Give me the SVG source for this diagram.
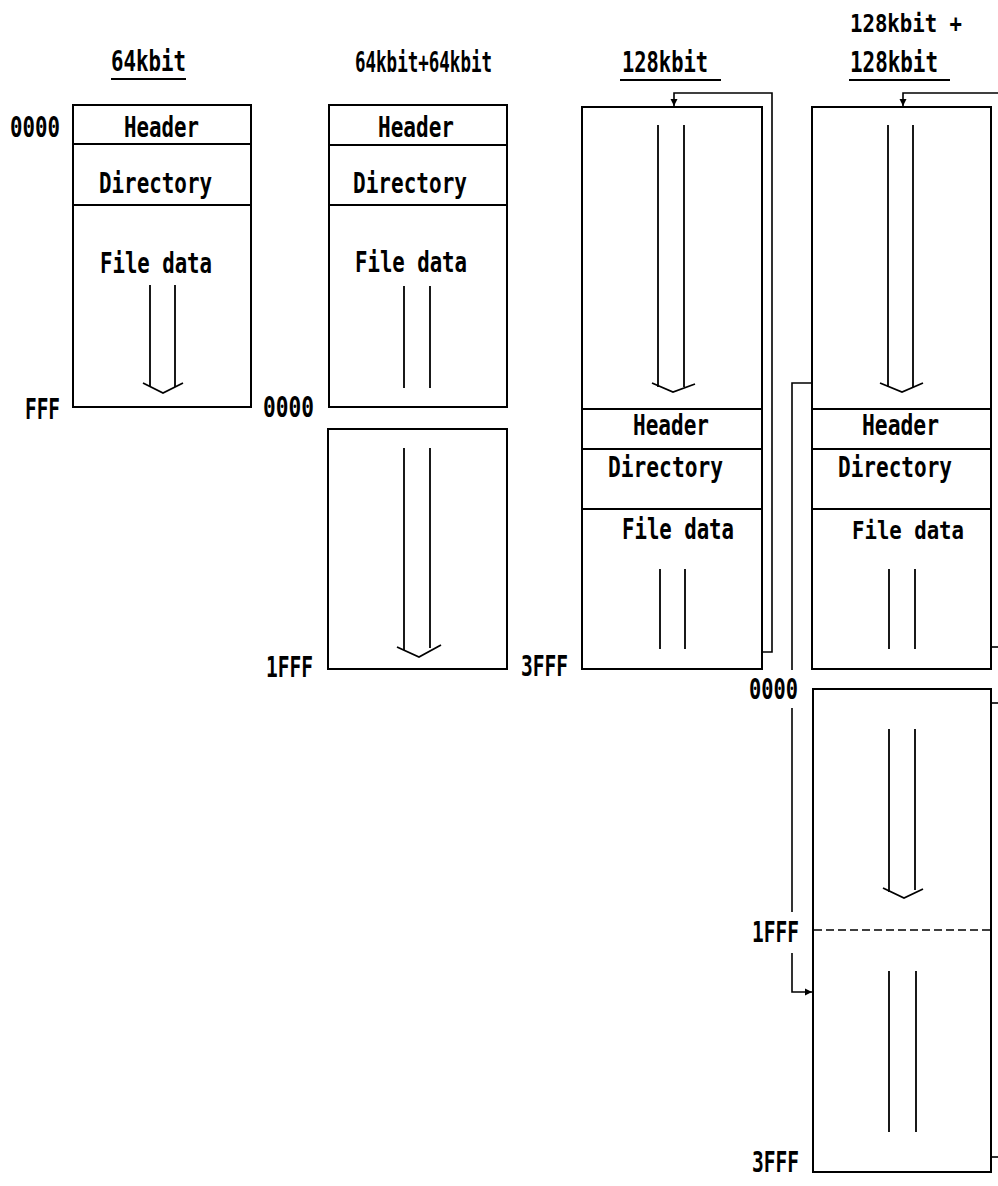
<svg xmlns="http://www.w3.org/2000/svg" width="998" height="1186" viewBox="0 0 998 1186">
<defs>
<marker id="ah" markerWidth="8" markerHeight="8" refX="7" refY="4" orient="auto" markerUnits="userSpaceOnUse">
<path d="M0,0.5 L7,4 L0,7.5 Z" fill="#000"/>
</marker>
</defs>
<style>
.bx{fill:#fff;stroke:#000;stroke-width:2}
.ln{stroke:#000;stroke-width:2;fill:none}
.ar{stroke:#000;stroke-width:1.8;fill:none}
.dl{stroke:#000;stroke-width:1.5;stroke-dasharray:8 4;fill:none}
.cn{stroke:#000;stroke-width:1.6;fill:none}
text{font-family:"DejaVu Sans Mono","Liberation Mono",monospace;font-weight:bold;font-size:28px;fill:#000}
.s{font-size:25px}
</style>
<rect width="998" height="1186" fill="#fff"/>

<g id="titles">
<text x="111" y="71" textLength="75" lengthAdjust="spacingAndGlyphs">64kbit</text>
<line class="ln" x1="111" y1="79" x2="186" y2="79"/>
<text x="355" y="72" textLength="137" lengthAdjust="spacingAndGlyphs">64kbit+64kbit</text>
<text x="622" y="72" textLength="86" lengthAdjust="spacingAndGlyphs">128kbit</text>
<line class="ln" x1="620" y1="80" x2="721" y2="80"/>
<text class="s" x="850" y="32" textLength="112" lengthAdjust="spacingAndGlyphs">128kbit +</text>
<text x="850" y="72" textLength="88" lengthAdjust="spacingAndGlyphs">128kbit</text>
<line class="ln" x1="849" y1="80" x2="950" y2="80"/>
</g>

<g id="labels">
<text x="10" y="137" textLength="50" lengthAdjust="spacingAndGlyphs">0000</text>
<text x="25" y="419" textLength="35" lengthAdjust="spacingAndGlyphs">FFF</text>
<text x="263" y="417" textLength="51" lengthAdjust="spacingAndGlyphs">0000</text>
<text x="266" y="677" textLength="47" lengthAdjust="spacingAndGlyphs">1FFF</text>
<text x="521" y="676" textLength="47" lengthAdjust="spacingAndGlyphs">3FFF</text>
<text x="749" y="699" textLength="49" lengthAdjust="spacingAndGlyphs">0000</text>
<text x="752" y="942" textLength="47" lengthAdjust="spacingAndGlyphs">1FFF</text>
<text x="752" y="1172" textLength="47" lengthAdjust="spacingAndGlyphs">3FFF</text>
</g>

<g id="mem64">
<rect class="bx" x="73" y="105" width="178" height="302"/>
<line class="ln" x1="73" y1="144" x2="251" y2="144"/>
<line class="ln" x1="73" y1="205" x2="251" y2="205"/>
<text x="124" y="137" textLength="75" lengthAdjust="spacingAndGlyphs">Header</text>
<text x="99" y="193" textLength="113" lengthAdjust="spacingAndGlyphs">Directory</text>
<text x="100" y="273" textLength="112" lengthAdjust="spacingAndGlyphs">File data</text>
<line class="ar" x1="150" y1="285" x2="150" y2="387"/>
<line class="ar" x1="175" y1="285" x2="175" y2="387"/>
<polyline class="ar" points="143,383 163,393 183,383"/>
</g>

<g id="mem64a">
<rect class="bx" x="329" y="105" width="178" height="302"/>
<line class="ln" x1="329" y1="145" x2="507" y2="145"/>
<line class="ln" x1="329" y1="205" x2="507" y2="205"/>
<text x="378" y="137" textLength="76" lengthAdjust="spacingAndGlyphs">Header</text>
<text x="353" y="193" textLength="114" lengthAdjust="spacingAndGlyphs">Directory</text>
<text x="355" y="272" textLength="112" lengthAdjust="spacingAndGlyphs">File data</text>
<line class="ar" x1="404" y1="286" x2="404" y2="388"/>
<line class="ar" x1="430" y1="286" x2="430" y2="388"/>
</g>

<g id="mem64b">
<rect class="bx" x="328" y="429" width="179" height="240"/>
<line class="ar" x1="404" y1="448" x2="404" y2="650"/>
<line class="ar" x1="430" y1="448" x2="430" y2="648"/>
<polyline class="ar" points="397,647 419,657 441,645"/>
</g>

<g id="mem128">
<rect class="bx" x="582" y="107" width="180" height="562"/>
<line class="ln" x1="582" y1="409" x2="762" y2="409"/>
<line class="ln" x1="582" y1="449" x2="762" y2="449"/>
<line class="ln" x1="582" y1="509" x2="762" y2="509"/>
<line class="ar" x1="658" y1="125" x2="658" y2="387"/>
<line class="ar" x1="684" y1="125" x2="684" y2="387"/>
<polyline class="ar" points="652,383 673,392 695,384"/>
<text x="633" y="435" textLength="76" lengthAdjust="spacingAndGlyphs">Header</text>
<text x="608" y="477" textLength="115" lengthAdjust="spacingAndGlyphs">Directory</text>
<text x="622" y="539" textLength="112" lengthAdjust="spacingAndGlyphs">File data</text>
<line class="ar" x1="660" y1="569" x2="660" y2="649"/>
<line class="ar" x1="685" y1="569" x2="685" y2="649"/>
</g>

<g id="mem128a">
<rect class="bx" x="812" y="107" width="179" height="562"/>
<line class="ln" x1="812" y1="409" x2="991" y2="409"/>
<line class="ln" x1="812" y1="449" x2="991" y2="449"/>
<line class="ln" x1="812" y1="509" x2="991" y2="509"/>
<line class="ar" x1="888" y1="125" x2="888" y2="387"/>
<line class="ar" x1="913" y1="125" x2="913" y2="387"/>
<polyline class="ar" points="880,383 902,392 923,383"/>
<text x="862" y="435" textLength="77" lengthAdjust="spacingAndGlyphs">Header</text>
<text x="838" y="477" textLength="114" lengthAdjust="spacingAndGlyphs">Directory</text>
<text class="s" x="852" y="539" textLength="112" lengthAdjust="spacingAndGlyphs">File data</text>
<line class="ar" x1="889" y1="569" x2="889" y2="649"/>
<line class="ar" x1="915" y1="569" x2="915" y2="649"/>
</g>

<g id="mem128b">
<rect class="bx" x="813" y="689" width="178" height="483"/>
<line class="dl" x1="814" y1="930" x2="990" y2="930"/>
<line class="ar" x1="889" y1="729" x2="889" y2="892"/>
<line class="ar" x1="915" y1="729" x2="915" y2="890"/>
<polyline class="ar" points="883,888 904,898 923,889"/>
<line class="ar" x1="889" y1="971" x2="889" y2="1132"/>
<line class="ar" x1="916" y1="971" x2="916" y2="1132"/>
</g>

<g id="connectors">
<polyline class="cn" points="762,652 772,652 772,93 674,93 674,106" marker-end="url(#ah)"/>
<polyline class="cn" points="998,93 903,93 903,106" marker-end="url(#ah)"/>
<line class="cn" x1="991" y1="647" x2="998" y2="647"/>
<line class="cn" x1="991" y1="703" x2="998" y2="703"/>
<line class="cn" x1="991" y1="1157" x2="998" y2="1157"/>
<polyline class="cn" points="812,383 792,383 792,670"/>
<line class="cn" x1="792" y1="708" x2="792" y2="912"/>
<polyline class="cn" points="792,953 792,992 812,992" marker-end="url(#ah)"/>
</g>
</svg>
